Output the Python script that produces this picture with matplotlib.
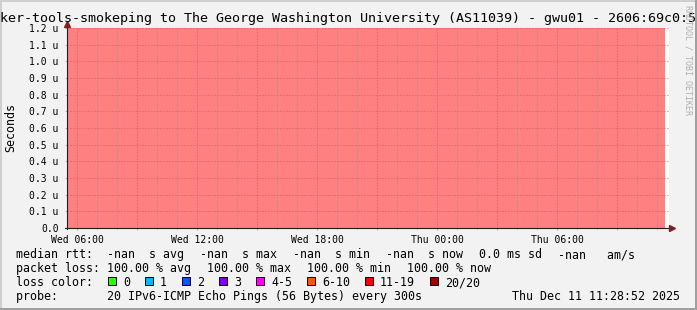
import numpy as np
import matplotlib
matplotlib.use('Agg')
import matplotlib.pyplot as plt
from matplotlib.patches import Rectangle
from matplotlib.ticker import MultipleLocator, FuncFormatter

plt.rcParams['font.family'] = ['DejaVu Sans Mono']
plt.rcParams['lines.scale_dashes'] = False

# values
title = 'ker-tools-smokeping to The George Washington University (AS11039) - gwu01 - 2606:69c0:5'
sample_hours = [5.5, 35.4]          # hours since Wed 00:00 (Wed 05:30 .. Thu 11:24)
loss_pct = [100.0, 100.0]
x_range = [5.5, 35.6]
y_range = [0.0, 1.2e-6]
day_names = ['Wed', 'Thu']

rtt_names = ['avg', 'max', 'min', 'now']
rtt_stats = [np.nan, np.nan, np.nan, np.nan]
rtt_sd_ms = 0.0
rtt_am = np.nan
loss_stats = [100.0, 100.0, 100.0, 100.0]
loss_labels = ['0', '1', '2', '3', '4-5', '6-10', '11-19', '20/20']
loss_colors = ['#26ff00', '#00b8ff', '#0059ff', '#7e00ff',
               '#ff00ff', '#ff5500', '#ff0000', '#a10000']
probe_text = '20 IPv6-ICMP Echo Pings (56 Bytes) every 300s'
stamp = 'Thu Dec 11 11:28:52 2025'

# rrdtool default colours
BACK = '#f2f2f2'
SHADEA = '#cfcfcf'
SHADEB = '#9e9e9e'
GRID = (0.56, 0.56, 0.56, 0.45)
MGRID = (0.87, 0.31, 0.31, 0.6)
ARROW = '#801f1f'
AXIS = '#1f1f1f'
FILL = '#ff8080'

W, H = 697, 310
fig = plt.figure(figsize=(W / 100, H / 100), dpi=100, facecolor=BACK)

ax = fig.add_axes([67 / W, 82 / H, 602 / W, 200 / H])
ax.set_facecolor('white')
ax.fill_between(sample_hours, 0, [y_range[1] * p / 100 for p in loss_pct],
                step='post', color=FILL, lw=0, zorder=1)
ax.set_xlim(x_range)
ax.set_ylim(y_range)
for s in ax.spines.values():
    s.set_visible(False)

ax.xaxis.set_major_locator(MultipleLocator(3))
ax.xaxis.set_minor_locator(MultipleLocator(1))
ax.yaxis.set_major_locator(MultipleLocator(0.1e-6))


def xfmt(h, pos):
    if round(h) % 6:
        return ''
    h = int(round(h))
    return '{} {:02d}:00'.format(day_names[h // 24], h % 24)


def yfmt(v, pos):
    if abs(v) < 1e-12:
        return '0.0'
    return '{:.1f} u'.format(v * 1e6)


ax.xaxis.set_major_formatter(FuncFormatter(xfmt))
ax.yaxis.set_major_formatter(FuncFormatter(yfmt))
ax.set_axisbelow(False)
ax.grid(which='major', color=MGRID, lw=0.6, linestyle=(0, (0.72, 1.44)))
ax.grid(which='minor', axis='x', color=GRID, lw=0.6, linestyle=(0, (0.72, 1.44)))
ax.tick_params(which='major', length=1.6, width=0.6, color=MGRID,
               labelsize=7, pad=3.5)
ax.tick_params(axis='y', pad=4.5)
ax.tick_params(which='minor', length=1.6, width=0.5, color=GRID)

# overlay in pixel coordinates for frame, axes arrows and legend
bg = fig.add_axes([0, 0, 1, 1], zorder=5)
bg.patch.set_visible(False)
bg.set_xlim(0, W)
bg.set_ylim(H, 0)
bg.axis('off')

bg.plot([0, W], [0.7, 0.7], color=SHADEA, lw=1.4)
bg.plot([0.7, 0.7], [0, H], color=SHADEA, lw=1.4)
bg.plot([0, W], [H - 1, H - 1], color=SHADEB, lw=1.4)
bg.plot([W - 1, W - 1], [0, H], color=SHADEB, lw=1.4)

bg.plot([67, 67], [229, 24], color=AXIS, lw=0.8)
bg.plot([65, 670], [228, 228], color=AXIS, lw=0.8)
bg.plot([67], [23.5], marker='^', ms=4, color=ARROW, mec=ARROW)
bg.plot([671.5], [228], marker='>', ms=4, color=ARROW, mec=ARROW)

bg.text(0, 22, title, fontsize=9.6, ha='left', va='baseline')
bg.text(10.5, 128, 'Seconds', fontsize=8.4, rotation=90, ha='center', va='center')
bg.text(688, 5, 'RRDTOOL / TOBI OETIKER', fontsize=6, rotation=270,
        ha='center', va='top', color='#b0b0b0')

CW = 7.0
TXT = dict(fontsize=8.4, va='baseline', ha='left')


def nanfmt(v, f):
    return '-nan' if np.isnan(v) else f.format(v)


rtt_items = []
for i, (n, v) in enumerate(zip(rtt_names, rtt_stats)):
    s = nanfmt(v, '{:.1f}') + '  s ' + n
    rtt_items.append(('median rtt:  ' if i == 0 else '') + s)
rtt_items.append('{:.1f} ms sd'.format(rtt_sd_ms))
rtt_items.append(nanfmt(rtt_am, '{:.1f}') + '   am/s')

loss_items = []
for i, (n, v) in enumerate(zip(rtt_names, loss_stats)):
    s = '{:.2f} % {}'.format(v, n)
    loss_items.append(('packet loss: ' if i == 0 else '') + s)

for items, yb in [(rtt_items, 258), (loss_items, 272)]:
    x = 16
    for s in items:
        bg.text(x, yb, s, **TXT)
        x += len(s) * CW + 16

x = 16
bg.text(x, 286, 'loss color:', **TXT)
x += 11 * CW + 15
for lab, col in zip(loss_labels, loss_colors):
    bg.add_patch(Rectangle((x, 277), 8, 8, facecolor=col, edgecolor='black', lw=0.7))
    bg.text(x + 15, 286, lab, **TXT)
    x += 15 + len(lab) * CW + 15

bg.text(16, 300, 'probe:' + ' ' * 7 + probe_text, **TXT)
bg.text(680, 300, stamp, fontsize=8.4, va='baseline', ha='right')

fig.savefig('out.png', dpi=100, facecolor=BACK)
